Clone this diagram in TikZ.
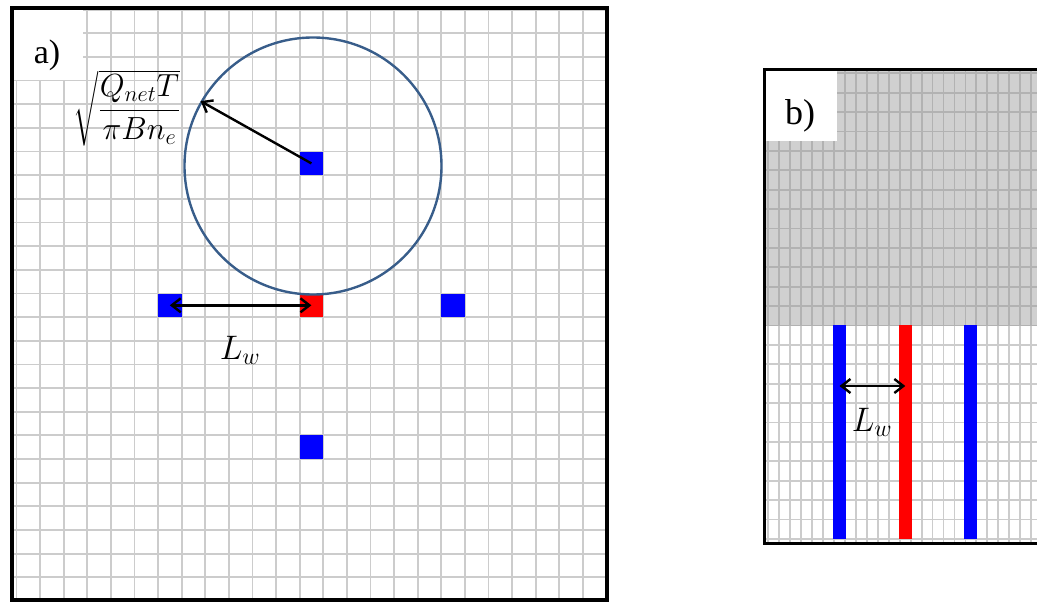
\RequirePackage{fix-cm}
\documentclass[tikz,border=0pt]{standalone}
\usepackage{amsmath}
\usepackage{fontspec}
\setmainfont{Liberation Serif}
\usetikzlibrary{arrows.meta, positioning}
\definecolor{circblue}{RGB}{56,93,138}
\definecolor{shadegray}{RGB}{208,208,208}
\definecolor{gridlight}{RGB}{204,204,204}
\definecolor{griddark}{RGB}{178,178,178}

\begin{document}
\begin{tikzpicture}[x=1pt, y=-1pt,
  gridline/.style = {draw=gridlight, line width=1.8pt},
  panelframe/.style = {draw=black, line width=4pt},
  cellsq/.style = {draw=none, minimum size=23.6pt, inner sep=0pt},
  wellbar/.style = {draw=none, minimum width=12.5pt, minimum height=214pt, inner sep=0pt},
  line/.style = {line width=2.4pt, {Straight Barb[length=9pt,width=14pt]}-{Straight Barb[length=9pt,width=14pt]}},
  ray/.style = {line width=2.4pt, -{Straight Barb[length=9pt,width=14pt]}},
  tag/.style = {font=\fontsize{34}{40}\selectfont, inner sep=0pt},
  lab/.style = {font=\fontsize{34}{40}\selectfont, inner sep=0pt}
]
  \useasboundingbox (0,0) rectangle (1037,602);

  % Panel a: grid
  \foreach \k in {0,...,25}
    \draw[gridline] ({16.4+23.6*\k},9.65) -- ({16.4+23.6*\k},600);
  \foreach \k in {0,...,24}
    \draw[gridline] (14,{9.65+23.65*\k}) -- (606,{9.65+23.65*\k});
  \fill[white] (14,10) rectangle (83,80);
  \node[tag] (taga) at (47,55) {a)};

  % Panel a: wells
  \node[cellsq, fill=blue] (wtop) at (311.4,163.4) {};
  \node[cellsq, fill=red] (wmid) at (311.4,305.3) {};
  \node[cellsq, fill=blue] (wleft) at (169.8,305.3) {};
  \node[cellsq, fill=blue] (wright) at (453,305.3) {};
  \node[cellsq, fill=blue] (wbot) at (311.4,447.2) {};

  % Capture zone
  \node[circle, draw=circblue, line width=2.4pt, minimum size=257pt, inner sep=0pt] (zone) at (313,166) {};
  \draw[ray] (wtop.center) -- (zone.150);
  \node[font=\fontsize{32}{38}\selectfont, inner sep=0pt] (radius) at (127,108)
    {$\sqrt{\dfrac{Q_{net}T}{\pi B n_e}}$};

  % Spacing
  \draw[line] (wleft.center) -- (wmid.center);
  \node[lab] (lwa) at (240,350) {$L_w$};

  \draw[panelframe] (12,8) rectangle (607,600);

  % Panel b: shaded part and grid
  \fill[shadegray] (766,71.5) rectangle (1037,325.5);
  \begin{scope}
    \clip (766,325.5) rectangle (1037,541.5);
    \foreach \k in {0,...,24}
      \draw[gridline] ({768.3+10.95*\k},71.5) -- ({768.3+10.95*\k},541.5);
    \foreach \k in {0,...,24}
      \draw[gridline] (766,{73.3+19.4*\k}) -- (1037,{73.3+19.4*\k});
  \end{scope}
  \begin{scope}
    \clip (766,71.5) rectangle (1037,325.5);
    \foreach \k in {0,...,24}
      \draw[gridline, draw=griddark] ({768.3+10.95*\k},71.5) -- ({768.3+10.95*\k},541.5);
    \foreach \k in {0,...,24}
      \draw[gridline, draw=griddark] (766,{73.3+19.4*\k}) -- (1037,{73.3+19.4*\k});
  \end{scope}
  \fill[white] (766,71.5) rectangle (837,141);
  \node[tag, font=\fontsize{36}{42}\selectfont] (tagb) at (800,116) {b)};

  % Panel b: well lines
  \node[wellbar, fill=blue] (barleft) at (839.5,432) {};
  \node[wellbar, fill=red] (barmid) at (905.3,432) {};
  \node[wellbar, fill=blue] (barright) at (970.5,432) {};

  \coordinate (lwrow) at (0,386);
  \draw[line] (barleft.center |- lwrow) -- (barmid.center |- lwrow);
  \node[lab] (lwb) at (872,422) {$L_w$};

  \draw[line width=3pt] (1037,70) -- (764.5,70) -- (764.5,543) -- (1037,543);
\end{tikzpicture}
\end{document}
